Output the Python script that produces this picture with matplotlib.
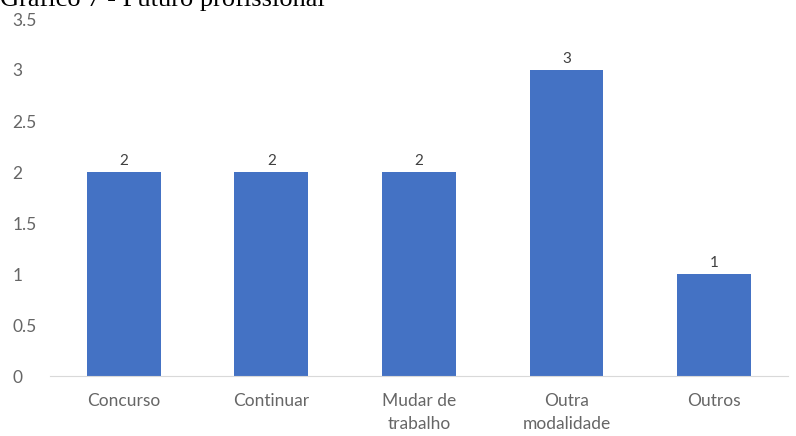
import matplotlib.pyplot as plt

# data
categorias = ["Concurso", "Continuar", "Mudar de\ntrabalho", "Outra\nmodalidade", "Outros"]
valores = [2, 2, 2, 3, 1]
yticks = [0, 0.5, 1, 1.5, 2, 2.5, 3, 3.5]
ytick_labels = ["0", "0.5", "1", "1.5", "2", "2.5", "3", "3.5"]

plt.rcParams['font.family'] = ['Lato', 'DejaVu Sans']

fig = plt.figure(figsize=(7.96, 4.36), dpi=100)
ax = fig.add_axes([50 / 796, 1 - 376 / 436, 738 / 796, 357 / 436])

x = range(len(categorias))
bars = ax.bar(x, valores, width=0.5, color="#4472C4", zorder=2)
for b, v in zip(bars, valores):
    ax.text(b.get_x() + b.get_width() / 2, v + 0.04, str(v), ha="center", va="bottom",
            fontsize=11, color="#404040")

ax.set_xlim(-0.5, len(categorias) - 0.5)
ax.set_ylim(0, 3.5)
ax.set_yticks(yticks)
ax.set_yticklabels(ytick_labels, ha="left")
ax.set_xticks(list(x))
ax.set_xticklabels(categorias, linespacing=1.55)
ax.tick_params(axis="both", length=0, colors="#666666", labelsize=12.5)
ax.tick_params(axis="x", pad=12)
ax.tick_params(axis="y", pad=27)

for s in ["top", "right", "left"]:
    ax.spines[s].set_visible(False)
ax.spines["bottom"].set_color("#D9D9D9")

# caption above the chart, clipped by the top edge
fig.text(0.0, 1 - 6 / 436, "Gráfico 7 - Futuro profissional", family="Liberation Serif",
         fontsize=19, va="baseline", ha="left", color="black")

fig.savefig("out.png", dpi=100)
